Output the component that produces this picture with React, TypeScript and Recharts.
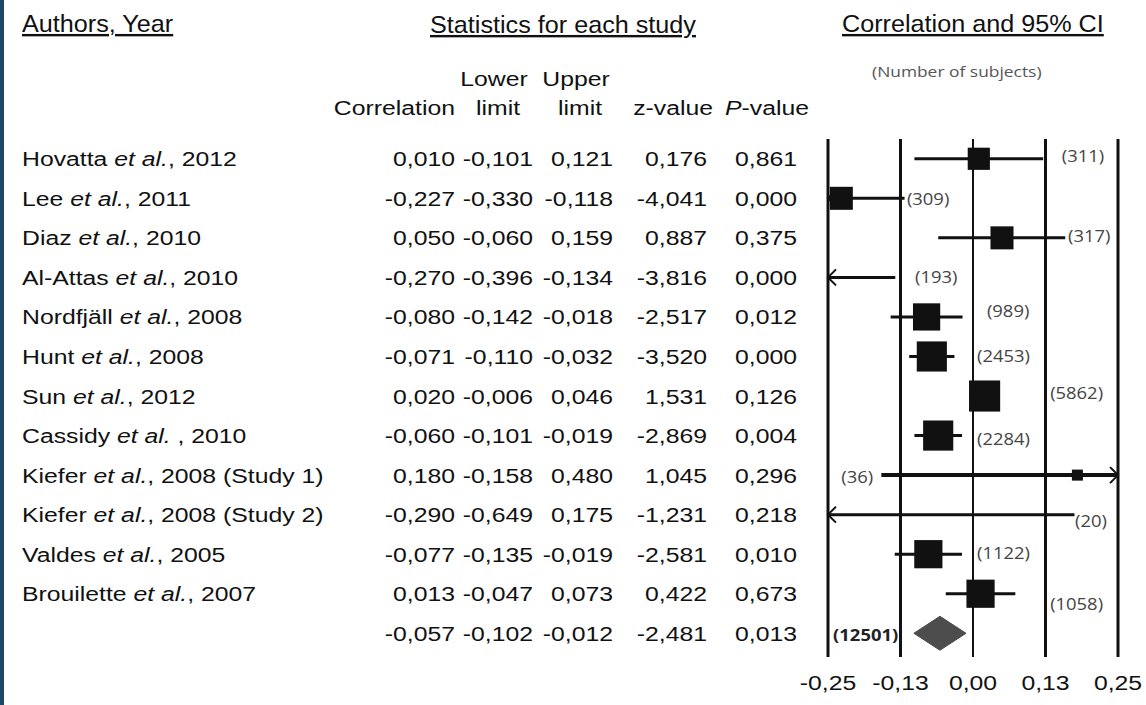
import { ScatterChart, Scatter, XAxis, YAxis, ReferenceLine } from "recharts";

// ── Data ──────────────────────────────────────────────────────────────

const authors = [
  "Hovatta", "Lee", "Diaz", "Al-Attas", "Nordfjäll", "Hunt",
  "Sun", "Cassidy", "Kiefer", "Kiefer", "Valdes", "Brouilette",
];
const citeTails = [
  ", 2012", ", 2011", ", 2010", ", 2010", ", 2008", ", 2008",
  ", 2012", " , 2010", ", 2008 (Study 1)", ", 2008 (Study 2)", ", 2005", ", 2007",
];
const correlation = [0.010, -0.227, 0.050, -0.270, -0.080, -0.071, 0.020, -0.060, 0.180, -0.290, -0.077, 0.013];
const lowerLimit  = [-0.101, -0.330, -0.060, -0.396, -0.142, -0.110, -0.006, -0.101, -0.158, -0.649, -0.135, -0.047];
const upperLimit  = [0.121, -0.118, 0.159, -0.134, -0.018, -0.032, 0.046, -0.019, 0.480, 0.175, -0.019, 0.073];
const zValue      = [0.176, -4.041, 0.887, -3.816, -2.517, -3.520, 1.531, -2.869, 1.045, -1.231, -2.581, 0.422];
const pValue      = [0.861, 0.000, 0.375, 0.000, 0.012, 0.000, 0.126, 0.004, 0.296, 0.218, 0.010, 0.673];
const subjects    = [311, 309, 317, 193, 989, 2453, 5862, 2284, 36, 20, 1122, 1058];
// relative weights (estimated from square sizes)
const weights     = [6.5, 7.0, 7.0, 5.0, 9.8, 12.0, 12.8, 12.0, 1.6, 0.8, 10.5, 10.5];

// pooled: correlation, lower, upper, z, p
const pooledStats = [-0.057, -0.102, -0.012, -2.481, 0.013];
const pooledSubjects = 12501;

const xTicks = [-0.25, -0.125, 0, 0.125, 0.25];

// where each "(n)" label sits, in correlation units, and its nudge
const countLabelX  = [0.153, -0.114, 0.164, -0.100, 0.024, 0.007, 0.133, 0.007, -0.172, 0.176, 0.007, 0.133];
const countLabelDy = [-2, 1, -1, 0, -5, 0, -3, 4, 2, 7, -1, 11];
const pooledLabelX = -0.129;

// ── Helpers ───────────────────────────────────────────────────────────

const X_MIN = xTicks[0];
const X_MAX = xTicks[xTicks.length - 1];
const POOLED_ROW = authors.length;
const rowIds = [...authors.map((_, i) => i), POOLED_ROW];

const fmt = (v: number) => v.toFixed(3).replace(".", ",");
const FONT = "'Liberation Sans', Arial, Helvetica, sans-serif";
const LABEL_FONT = "'Open Sans', 'Noto Sans', sans-serif";
const INK = "#111";
const STAT_COLS = [455, 533, 613, 707, 797];
const SX = 1.18;

type Pt = { x: number; y: number; arrow?: "left" | "right" | null };

const ciSeries: Pt[][] = authors.map((_, i) => [
  { x: Math.max(lowerLimit[i], X_MIN), y: i, arrow: lowerLimit[i] < X_MIN ? "left" : null },
  { x: Math.min(upperLimit[i], X_MAX), y: i, arrow: upperLimit[i] > X_MAX ? "right" : null },
]);

const squares = authors
  .map((_, i) => ({ x: correlation[i], y: i, w: weights[i] }))
  .filter((d) => d.x >= X_MIN && d.x <= X_MAX);

const diamond = [
  { x: pooledStats[1], y: POOLED_ROW },
  { x: pooledStats[0], y: POOLED_ROW - 0.43 },
  { x: pooledStats[2], y: POOLED_ROW },
  { x: pooledStats[0], y: POOLED_ROW + 0.43 },
  { x: pooledStats[1], y: POOLED_ROW },
];

const countLabels = [
  ...subjects.map((n, i) => ({
    x: countLabelX[i], y: i, n, dy: countLabelDy[i],
    anchor: countLabelX[i] < lowerLimit[i] ? "end" : "start", bold: false,
  })),
  { x: pooledLabelX, y: POOLED_ROW, n: pooledSubjects, dy: 2, anchor: "end", bold: true },
];

// ── Custom renderers ──────────────────────────────────────────────────

function RowTick(props: any) {
  const { y, payload } = props;
  const i = payload.value as number;
  const isStudy = i < authors.length;
  const stats = isStudy
    ? [correlation[i], lowerLimit[i], upperLimit[i], zValue[i], pValue[i]]
    : pooledStats;
  const base = y + 7.5;
  return (
    <g fill={INK} fontFamily={FONT} fontSize={21}>
      {isStudy && (
        <text transform={`translate(22,${base}) scale(${SX},1)`}>
          <tspan>{authors[i] + " "}</tspan>
          <tspan fontStyle="italic">et al.</tspan>
          <tspan>{citeTails[i]}</tspan>
        </text>
      )}
      {stats.map((v, k) => (
        <text key={k} transform={`translate(${STAT_COLS[k]},${base}) scale(${SX},1)`} textAnchor="end">
          {fmt(v)}
        </text>
      ))}
    </g>
  );
}

function XTick(props: any) {
  const { x, y, payload } = props;
  return (
    <text
      transform={`translate(${x},${y + 25}) scale(${SX},1)`}
      textAnchor="middle"
      fill={INK}
      fontFamily={FONT}
      fontSize={21}
    >
      {(payload.value as number).toFixed(2).replace(".", ",")}
    </text>
  );
}

function CiEnd(props: any) {
  const { cx, cy, payload } = props;
  if (cx == null || cy == null || !payload?.arrow) return <g />;
  const d = payload.arrow === "left" ? 8 : -8;
  return (
    <path
      d={`M${cx + d},${cy - 8} L${cx},${cy} L${cx + d},${cy + 8}`}
      stroke={INK}
      strokeWidth={2}
      fill="none"
    />
  );
}

function StudySquare(props: any) {
  const { cx, cy, payload } = props;
  if (cx == null || cy == null) return <g />;
  const side = 8.7 * Math.sqrt(payload.w);
  return <rect x={cx - side / 2} y={cy - side / 2} width={side} height={side} fill={INK} />;
}

function CountLabel(props: any) {
  const { cx, cy, payload } = props;
  if (cx == null || cy == null) return <g />;
  return (
    <text
      transform={`translate(${cx},${cy + payload.dy + 5.5}) scale(1.15,1)`}
      textAnchor={payload.anchor}
      fontFamily={LABEL_FONT}
      fontSize={16}
      fontWeight={payload.bold ? 700 : 400}
      fill={payload.bold ? "#222" : "#444"}
    >
      ({payload.n})
    </text>
  );
}

const Empty = () => <g />;

// ── Main component ────────────────────────────────────────────────────

export default function App() {
  const head = { fontFamily: FONT, fontSize: 24, fill: INK } as const;
  const sub = { fontFamily: FONT, fontSize: 21, fill: INK } as const;

  return (
    <div style={{
      position: "absolute", left: 0, top: 0, width: 1146, height: 705,
      background: "#FFFFFF", overflow: "hidden",
    }}>
      <div style={{ position: "absolute", left: 0, top: 0, width: 4, height: 705, background: "#1D4866" }} />

      <ScatterChart width={1146} height={705} margin={{ top: 139, right: 28, bottom: 0, left: 0 }}>
        <XAxis
          dataKey="x"
          type="number"
          domain={[X_MIN, X_MAX]}
          ticks={xTicks}
          interval={0}
          height={48}
          axisLine={false}
          tickLine={false}
          tick={<XTick />}
        />
        <YAxis
          dataKey="y"
          type="number"
          domain={[-0.5, 12.6]}
          reversed
          ticks={rowIds}
          interval={0}
          width={828}
          axisLine={false}
          tickLine={false}
          tick={<RowTick />}
        />

        {xTicks.map((t) => (
          <ReferenceLine key={t} x={t} stroke={INK} strokeWidth={t === 0 ? 2 : 3} />
        ))}

        {ciSeries.map((pts, i) => (
          <Scatter
            key={`ci-${i}`}
            data={pts}
            fill={INK}
            stroke={INK}
            strokeWidth={i === 8 ? 4 : 3}
            line={{ stroke: INK, strokeWidth: i === 8 ? 4 : 3 }}
            shape={CiEnd}
            isAnimationActive={false}
          />
        ))}

        <Scatter data={squares} fill={INK} shape={StudySquare} isAnimationActive={false} />

        <Scatter
          data={diamond}
          fill="#4D4D4D"
          line={{ stroke: "#4D4D4D", fill: "#4D4D4D", strokeWidth: 1 }}
          shape={Empty}
          isAnimationActive={false}
        />

        <Scatter data={countLabels} fill="#444" shape={CountLabel} isAnimationActive={false} />
      </ScatterChart>

      {/* ── Column headers ─────────────────────────────────────── */}
      <svg width={1146} height={130} style={{ position: "absolute", left: 0, top: 0, pointerEvents: "none" }}>
        <text {...head} transform="translate(22,32) scale(1.05,1)" style={{ textDecoration: "underline" }}>
          Authors, Year
        </text>
        <text {...head} transform="translate(430,33) scale(1.05,1)" style={{ textDecoration: "underline" }}>
          Statistics for each study
        </text>
        <text {...head} transform="translate(842,32) scale(1.05,1)" style={{ textDecoration: "underline" }}>
          Correlation and 95% CI
        </text>
        <text
          transform="translate(872,77) scale(1.16,1)"
          fontFamily={LABEL_FONT}
          fontSize={15}
          fill="#555"
        >
          (Number of subjects)
        </text>

        <text {...sub} transform={`translate(494,86) scale(${SX},1)`} textAnchor="middle">Lower</text>
        <text {...sub} transform={`translate(576,86) scale(${SX},1)`} textAnchor="middle">Upper</text>
        <text {...sub} transform={`translate(455,115) scale(${SX},1)`} textAnchor="end">Correlation</text>
        <text {...sub} transform={`translate(498,115) scale(${SX},1)`} textAnchor="middle">limit</text>
        <text {...sub} transform={`translate(580,115) scale(${SX},1)`} textAnchor="middle">limit</text>
        <text {...sub} transform={`translate(713,115) scale(${SX},1)`} textAnchor="end">z-value</text>
        <text {...sub} transform={`translate(725,115) scale(${SX},1)`}>
          <tspan fontStyle="italic">P</tspan>-value
        </text>
      </svg>
    </div>
  );
}
